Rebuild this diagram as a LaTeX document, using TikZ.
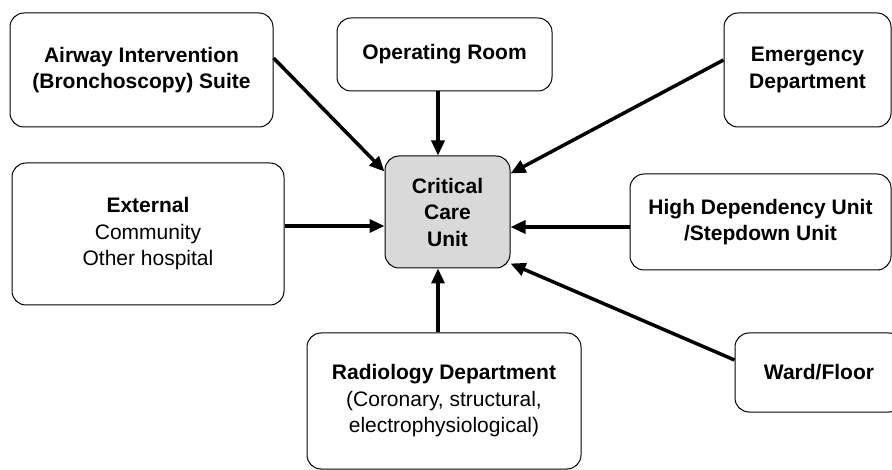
\documentclass[tikz,border=0pt]{standalone}
\usepackage{fontspec}
\setmainfont{Liberation Sans}
\usetikzlibrary{arrows.meta}
\definecolor{ccufill}{RGB}{217,217,217}
\tikzset{
    unit/.style={draw, rounded corners=14pt, line width=1pt, align=center, inner sep=0pt,
        font=\fontsize{21}{26.5}\selectfont},
    flow/.style={line width=3.5pt, -{Triangle[length=15pt,width=13pt]}}
}

\begin{document}
\begin{tikzpicture}[x=1pt,y=-1pt]
    \useasboundingbox (0,0) rectangle (892,470);

    \node[unit, fill=ccufill, minimum width=125pt, minimum height=112pt] (CCU) at (447.5,212) {\textbf{Critical}\\\textbf{Care}\\\textbf{Unit}};

    \node[unit, minimum width=263pt, minimum height=114pt] (AIR) at (141.5,70) {\textbf{Airway Intervention}\\\textbf{(Bronchoscopy) Suite}};
    \node[unit, minimum width=215pt, minimum height=73pt] (OR) at (444.5,54.5) {\textbf{Operating Room}};
    \node[unit, minimum width=167pt, minimum height=114pt] (ED) at (807.5,70) {\textbf{Emergency}\\\textbf{Department}};

    \node[unit, minimum width=272pt, minimum height=142pt] (EXT) at (148,234) {\textbf{External}\\Community\\Other hospital};
    \node[unit, minimum width=261pt, minimum height=96pt] (HDU) at (760.5,222) {\textbf{High Dependency Unit}\\\textbf{/Stepdown Unit}};

    \node[unit, minimum width=274pt, minimum height=136pt] (RAD) at (444,401) {\textbf{Radiology Department}\\(Coronary, structural,\\electrophysiological)};
    \node[unit, minimum width=168pt, minimum height=79pt] (WARD) at (819,372.5) {\textbf{Ward/Floor}};



    \draw[flow] ([yshift=12pt]AIR.east) -- ([yshift=-16pt]CCU.north west);
    \draw[flow] ([xshift=-6.5pt]OR.south) -- ([xshift=-9.5pt]CCU.north);
    \draw[flow] ([yshift=10pt]ED.west) -- ([yshift=-18pt]CCU.north east);

    \draw[flow] ([yshift=8pt]EXT.east) -- ([yshift=-14pt]CCU.west);
    \draw[flow] ([yshift=-5pt]HDU.west) -- ([yshift=-15pt]CCU.east);

    \draw[flow] ([xshift=-6pt]RAD.north) -- ([xshift=-9.5pt]CCU.south);
    \draw[flow] ([yshift=12.5pt]WARD.west) -- ([yshift=5pt]CCU.south east);

\end{tikzpicture}
\end{document}
